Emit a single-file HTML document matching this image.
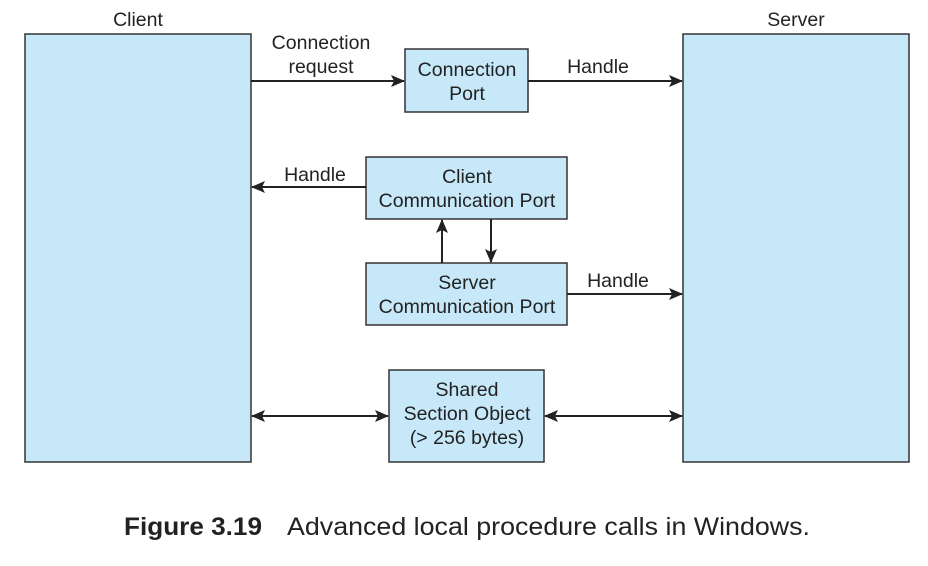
<!DOCTYPE html>
<html><head><style>body{margin:0;background:#fff}</style></head><body>
<svg width="928" height="561" viewBox="0 0 928 561" xmlns="http://www.w3.org/2000/svg" font-family="Liberation Sans, sans-serif">
<defs>
<marker id="a" markerWidth="14" markerHeight="12" refX="13" refY="6" orient="auto-start-reverse" markerUnits="userSpaceOnUse">
<path d="M0,0 L14,6 L0,12 L3,6 Z" fill="#222"/></marker>
</defs>
<g fill="#c6e8f8" stroke="#333" stroke-width="1.5">
<rect x="25" y="34" width="226" height="428"/>
<rect x="683" y="34" width="226" height="428"/>
<rect x="405" y="49" width="123" height="63"/>
<rect x="366" y="157" width="201" height="62"/>
<rect x="366" y="263" width="201" height="62"/>
<rect x="389" y="370" width="155" height="92"/>
</g>
<g stroke="#222" stroke-width="2" fill="none">
<line x1="251" y1="81" x2="404" y2="81" marker-end="url(#a)"/>
<line x1="528" y1="81" x2="682" y2="81" marker-end="url(#a)"/>
<line x1="366" y1="187" x2="252" y2="187" marker-end="url(#a)"/>
<line x1="442" y1="263" x2="442" y2="220" marker-end="url(#a)"/>
<line x1="491" y1="219" x2="491" y2="262" marker-end="url(#a)"/>
<line x1="567" y1="294" x2="682" y2="294" marker-end="url(#a)"/>
<line x1="252" y1="416" x2="388" y2="416" marker-start="url(#a)" marker-end="url(#a)"/>
<line x1="545" y1="416" x2="682" y2="416" marker-start="url(#a)" marker-end="url(#a)"/>
</g>
<g font-size="19.5" fill="#222" text-anchor="middle">
<text x="138" y="26">Client</text>
<text x="796" y="26">Server</text>
<text x="321" y="49">Connection</text>
<text x="321" y="73">request</text>
<text x="467" y="76">Connection</text>
<text x="467" y="100">Port</text>
<text x="598" y="73">Handle</text>
<text x="315" y="181">Handle</text>
<text x="467" y="183">Client</text>
<text x="467" y="207">Communication Port</text>
<text x="467" y="289">Server</text>
<text x="467" y="313">Communication Port</text>
<text x="618" y="287">Handle</text>
<text x="467" y="396">Shared</text>
<text x="467" y="420">Section Object</text>
<text x="467" y="444">(&gt; 256 bytes)</text>
</g>
<text x="124" y="535" font-size="25" font-weight="bold" fill="#222" textLength="138" lengthAdjust="spacingAndGlyphs">Figure 3.19</text>
<text x="287" y="535" font-size="25" fill="#222" textLength="523" lengthAdjust="spacingAndGlyphs">Advanced local procedure calls in Windows.</text>
</svg>
</body></html>
